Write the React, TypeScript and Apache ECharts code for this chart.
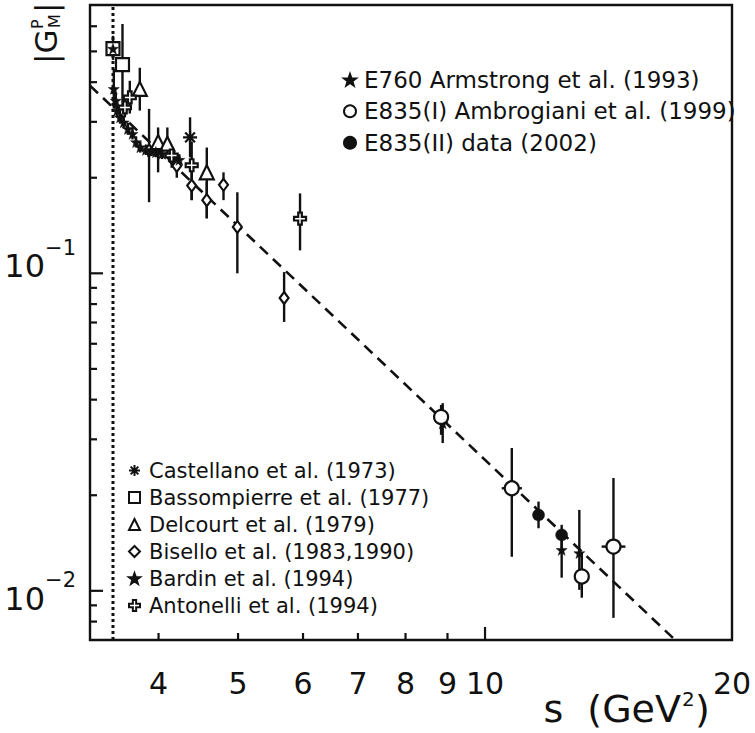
import React, { useEffect, useRef } from "react";
import * as echarts from "echarts";

const FONT = "DejaVu Sans";
const INK = "#111";
const lg = (v: number) => Math.log10(v);

// ---- axes (s in GeV^2, |G_M^p|), both logarithmic ----
const xRange = [3.3, 20];
const yRange = [0.007, 0.7];
const xLabelValues = [4, 5, 6, 7, 8, 9, 10, 20];
const xMajorTickValues = [10];
const xMinorTickValues = [4, 5, 6, 7, 8, 9];
const yLabelValues = [0.01, 0.1];
const yMajorTickValues = [0.01, 0.1];
const yMinorTickValues = [0.008, 0.009, 0.02, 0.03, 0.04, 0.05, 0.06, 0.07, 0.08, 0.09, 0.2, 0.3, 0.4, 0.5, 0.6];

// ---- threshold and fit ----
const thresholdS = 3.52;
const fitS = [3.3, 17.05];
const fitG = [0.39, 0.007];

// ---- data sets ----
const castellanoS = [4.37];
const castellanoG = [0.268];
const castellanoLo = [0.232];
const castellanoHi = [0.31];

const bassompierreS = [3.52, 3.615];
const bassompierreG = [0.51, 0.454];
const bassompierreLo = [0.47, 0.3255];
const bassompierreHi = [0.56, 0.61];

const delcourtS = [3.795, 3.995, 4.1, 4.58];
const delcourtG = [0.381, 0.259, 0.256, 0.208];
const delcourtLo = [0.3255, 0.208, 0.232, 0.149];
const delcourtHi = [0.444, 0.288, 0.288, 0.249];

const biselloS = [3.895, 4.15, 4.21, 4.39, 4.58, 4.8, 4.99, 5.69];
const biselloG = [0.244, 0.232, 0.218, 0.189, 0.17, 0.19, 0.14, 0.0836];
const biselloLo = [0.1675, 0.215, 0.2, 0.17, 0.149, 0.17, 0.1, 0.0703];
const biselloHi = [0.3295, 0.25, 0.236, 0.211, 0.194, 0.208, 0.18, 0.1009];

const bardinS = [3.52, 3.528, 3.548, 3.56, 3.59, 3.627, 3.67, 3.718, 3.755, 3.8, 3.86, 3.915, 3.97, 4.04, 4.18, 4.24];
const bardinG = [0.51, 0.381, 0.35, 0.3255, 0.31, 0.299, 0.285, 0.275, 0.259, 0.2497, 0.2449, 0.2424, 0.2409, 0.2379, 0.2318, 0.2279];
const bardinLo = [0.48, 0.33, 0.33, 0.31, 0.296, 0.286, 0.273, 0.264, 0.249, 0.24, 0.236, 0.234, 0.232, 0.229, 0.223, 0.219];
const bardinHi = [0.54, 0.44, 0.37, 0.341, 0.325, 0.313, 0.298, 0.287, 0.27, 0.26, 0.254, 0.251, 0.25, 0.247, 0.241, 0.237];

const antonelliS = [3.64, 3.69, 4.15, 4.39, 5.95];
const antonelliG = [0.333, 0.358, 0.235, 0.219, 0.1486];
const antonelliLo = [0.31, 0.3185, 0.22, 0.17, 0.1181];
const antonelliHi = [0.36, 0.404, 0.25, 0.26, 0.1785];

const e760S = [8.88, 12.4, 13.03];
const e760G = [0.0337, 0.01346, 0.01315];
const e760Lo = [0.0292, 0.011, 0.01007];
const e760Hi = [0.039, 0.01446, 0.01798];

const e835aS = [8.84, 10.78, 13.12, 14.34];
const e835aG = [0.0353, 0.02104, 0.0111, 0.01378];
const e835aLo = [0.031, 0.0128, 0.00951, 0.00822];
const e835aHi = [0.0385, 0.02817, 0.01317, 0.02266];
const e835aSLo = [8.7, 10.48, 12.95, 13.87];
const e835aSHi = [9.0, 11.09, 13.3, 14.83];

const e835bS = [11.62, 12.4];
const e835bG = [0.01734, 0.015];
const e835bLo = [0.01574, 0.01378];
const e835bHi = [0.0191, 0.01614];

// ---- marker shapes ----
const STAR = "path://M5,0 L6.176,3.382 L9.755,3.455 L6.902,5.618 L7.939,9.045 L5,7 L2.061,9.045 L3.098,5.618 L0.245,3.455 L3.824,3.382 Z";
const CROSS = "path://M3.5,0 L6.5,0 L6.5,3.5 L10,3.5 L10,6.5 L6.5,6.5 L6.5,10 L3.5,10 L3.5,6.5 L0,6.5 L0,3.5 L3.5,3.5 Z";
const ASTER = "path://M0,5 L10,5 M5,0 L5,10 M1.5,1.5 L8.5,8.5 M8.5,1.5 L1.5,8.5";

type DS = {
  name: string; s: number[]; g: number[]; lo: number[]; hi: number[];
  sLo?: number[]; sHi?: number[];
  symbol: string; size: number | number[]; filled: boolean;
};

const datasets: DS[] = [
  { name: "E760 Armstrong et al. (1993)", s: e760S, g: e760G, lo: e760Lo, hi: e760Hi, symbol: STAR, size: 11, filled: true },
  { name: "E835(I) Ambrogiani et al. (1999)", s: e835aS, g: e835aG, lo: e835aLo, hi: e835aHi, sLo: e835aSLo, sHi: e835aSHi, symbol: "circle", size: 14, filled: false },
  { name: "E835(II) data (2002)", s: e835bS, g: e835bG, lo: e835bLo, hi: e835bHi, symbol: "circle", size: 12, filled: true },
  { name: "Castellano et al. (1973)", s: castellanoS, g: castellanoG, lo: castellanoLo, hi: castellanoHi, symbol: ASTER, size: 14, filled: false },
  { name: "Bassompierre et al. (1977)", s: bassompierreS, g: bassompierreG, lo: bassompierreLo, hi: bassompierreHi, symbol: "rect", size: 13, filled: false },
  { name: "Delcourt et al. (1979)", s: delcourtS, g: delcourtG, lo: delcourtLo, hi: delcourtHi, symbol: "triangle", size: 14, filled: false },
  { name: "Bisello et al. (1983,1990)", s: biselloS, g: biselloG, lo: biselloLo, hi: biselloHi, symbol: "diamond", size: [9, 12], filled: false },
  { name: "Bardin et al. (1994)", s: bardinS, g: bardinG, lo: bardinLo, hi: bardinHi, symbol: STAR, size: 11, filled: true },
  { name: "Antonelli et al. (1994)", s: antonelliS, g: antonelliG, lo: antonelliLo, hi: antonelliHi, symbol: CROSS, size: 12, filled: false },
];

const topLegend = datasets.slice(0, 3).map((d) => d.name);
const bottomLegend = datasets.slice(3).map((d) => d.name);

const MAJOR_LEN = 13;
const MINOR_LEN = 7;

const X_MIN = lg(xRange[0]);
const X_MAX = lg(xRange[1]);
const Y_MIN = lg(yRange[0]);
const Y_MAX = lg(yRange[1]);

// inward tick marks: [x, y, dxPixels, dyPixels]
function tickItems(): number[][] {
  return [
    ...xMajorTickValues.map((v) => [lg(v), Y_MIN, 0, -MAJOR_LEN]),
    ...xMinorTickValues.map((v) => [lg(v), Y_MIN, 0, -MINOR_LEN]),
    ...yMajorTickValues.map((v) => [X_MIN, lg(v), MAJOR_LEN, 0]),
    ...yMinorTickValues.map((v) => [X_MIN, lg(v), MINOR_LEN, 0]),
  ];
}

function buildOption(): any {
  const errorData: number[][] = [];
  datasets.forEach((d) => {
    d.s.forEach((s, i) => {
      errorData.push([
        lg(s), lg(d.g[i]), lg(d.lo[i]), lg(d.hi[i]),
        lg(d.sLo ? d.sLo[i] : s), lg(d.sHi ? d.sHi[i] : s),
      ]);
    });
  });

  const markerSeries = datasets.map((d) => ({
    type: "scatter",
    name: d.name,
    z: 4,
    symbol: d.symbol,
    symbolSize: d.size,
    itemStyle: {
      color: d.filled ? INK : "#fff",
      borderColor: INK,
      borderWidth: d.filled ? 0.5 : 2.2,
      opacity: 1,
    },
    data: d.s.map((s, i) => [lg(s), lg(d.g[i])]),
  }));

  const legendCommon = {
    orient: "vertical",
    itemGap: 0,
    padding: 0,
    selectedMode: false,
    inactiveColor: INK,
  };

  return {
    animation: false,
    backgroundColor: "#fff",
    grid: {
      left: 90, top: 5, width: 642, height: 635,
      show: true, borderColor: INK, borderWidth: 2.4, backgroundColor: "transparent",
      containLabel: false,
    },
    xAxis: {
      type: "value", position: "bottom", min: X_MIN, max: X_MAX,
      axisLine: { show: false, onZero: false }, splitLine: { show: false },
      axisTick: { show: false },
      axisLabel: {
        show: true,
        customValues: xLabelValues.map(lg),
        formatter: (v: number) => String(Math.round(Math.pow(10, v))),
        margin: 35, fontSize: 30, lineHeight: 16, fontFamily: FONT, color: INK,
      },
    },
    yAxis: {
      type: "value", position: "left", min: Y_MIN, max: Y_MAX,
      axisLine: { show: false, onZero: false }, splitLine: { show: false },
      axisTick: { show: false },
      axisLabel: {
        show: true,
        customValues: yLabelValues.map(lg),
        formatter: (v: number) => {
          const e = Math.round(-v);
          return `{b${e}|10}{s${e}|\u2212${e}}`;
        },
        margin: 14,
        rich: {
          b1: { fontSize: 32, lineHeight: 32, fontFamily: FONT, color: INK, padding: [0, 0, 14, 0] },
          s1: { fontSize: 21, lineHeight: 21, fontFamily: FONT, color: INK, padding: [0, 0, 50, 0] },
          b2: { fontSize: 32, lineHeight: 32, fontFamily: FONT, color: INK, padding: [16, 0, 0, 0] },
          s2: { fontSize: 21, lineHeight: 21, fontFamily: FONT, color: INK, padding: [0, 0, 22, 0] },
        },
      },
    },
    legend: [
      {
        ...legendCommon,
        data: topLegend,
        left: 343, top: 64,
        itemWidth: 12, itemHeight: 12,
        textStyle: { fontFamily: FONT, fontSize: 23, color: INK, lineHeight: 31.5, padding: [0, 0, 0, 3] },
      },
      {
        ...legendCommon,
        data: bottomLegend,
        left: 128, top: 457,
        itemWidth: 11, itemHeight: 11,
        textStyle: { fontFamily: FONT, fontSize: 21, color: INK, lineHeight: 27, padding: [0, 0, 0, 4] },
      },
    ],
    graphic: [
      {
        id: "yTitle", type: "group", x: 46, y: 64, rotation: Math.PI / 2, silent: true,
        children: [
          { type: "text", x: 0, y: 0, style: { text: "|G", fontSize: 31, fontFamily: FONT, fill: INK, align: "left", verticalAlign: "middle" } },
          { type: "text", x: 35, y: -9, style: { text: "P", fontSize: 16, fontFamily: FONT, fill: INK, align: "left", verticalAlign: "middle" } },
          { type: "text", x: 36, y: 8, style: { text: "M", fontSize: 16, fontFamily: FONT, fill: INK, align: "left", verticalAlign: "middle" } },
          { type: "text", x: 51, y: 0, style: { text: "|", fontSize: 31, fontFamily: FONT, fill: INK, align: "left", verticalAlign: "middle" } },
        ],
      },
      {
        id: "xTitle", type: "group", silent: true,
        children: [
          { type: "text", x: 681, y: 709, style: { text: "s  (GeV", fontSize: 38, fontFamily: FONT, fill: INK, align: "right", verticalAlign: "middle" } },
          { type: "text", x: 682, y: 699, style: { text: "2", fontSize: 20, fontFamily: FONT, fill: INK, align: "left", verticalAlign: "middle" } },
          { type: "text", x: 695, y: 709, style: { text: ")", fontSize: 38, fontFamily: FONT, fill: INK, align: "left", verticalAlign: "middle" } },
        ],
      },
    ],
    series: [
      {
        type: "line", name: "threshold", z: 1, silent: true, symbol: "none",
        lineStyle: { color: INK, width: 3, type: [3, 3] },
        data: [[lg(thresholdS), Y_MIN], [lg(thresholdS), Y_MAX]],
      },
      {
        type: "line", name: "fit", z: 1, silent: true, symbol: "none", clip: true,
        lineStyle: { color: INK, width: 2.6, type: [11, 7] },
        data: fitS.map((s, i) => [lg(s), lg(fitG[i])]),
      },
      {
        type: "custom", name: "ticks", z: 6, silent: true, clip: false,
        encode: { x: [0], y: [1] },
        dimensions: ["x", "y", "dx", "dy"],
        renderItem: (_params: any, api: any) => {
          const p = api.coord([api.value(0), api.value(1)]);
          const dx = api.value(2);
          const dy = api.value(3);
          return {
            type: "group",
            children: [
              { type: "line", shape: { x1: p[0], y1: p[1], x2: p[0] + dx, y2: p[1] + dy }, style: { stroke: INK, lineWidth: 2.2 } },
            ],
          };
        },
        data: tickItems(),
      },
      {
        type: "custom", name: "errors", z: 2, silent: true, clip: true,
        encode: { x: [0, 4, 5], y: [1, 2, 3] },
        renderItem: (_params: any, api: any) => {
          const x = api.value(0);
          const y = api.value(1);
          const a = api.coord([x, api.value(2)]);
          const b = api.coord([x, api.value(3)]);
          const children: any[] = [
            { type: "line", shape: { x1: a[0], y1: a[1], x2: b[0], y2: b[1] }, style: { stroke: INK, lineWidth: 2.4 } },
          ];
          const xl = api.value(4), xh = api.value(5);
          if (xh - xl > 1e-6) {
            const c = api.coord([xl, y]);
            const d = api.coord([xh, y]);
            children.push({ type: "line", shape: { x1: c[0], y1: c[1], x2: d[0], y2: d[1] }, style: { stroke: INK, lineWidth: 2.4 } });
          }
          return { type: "group", children };
        },
        data: errorData,
      },
      ...markerSeries,
    ],
  };
}

export default function App() {
  const ref = useRef<HTMLDivElement>(null);
  useEffect(() => {
    if (!ref.current) return;
    const chart = echarts.init(ref.current, undefined, { renderer: "svg" });
    chart.setOption(buildOption());
    return () => chart.dispose();
  }, []);
  return (
    <div
      ref={ref}
      style={{ position: "fixed", left: 0, top: 0, width: 755, height: 733, background: "#fff" }}
    />
  );
}
